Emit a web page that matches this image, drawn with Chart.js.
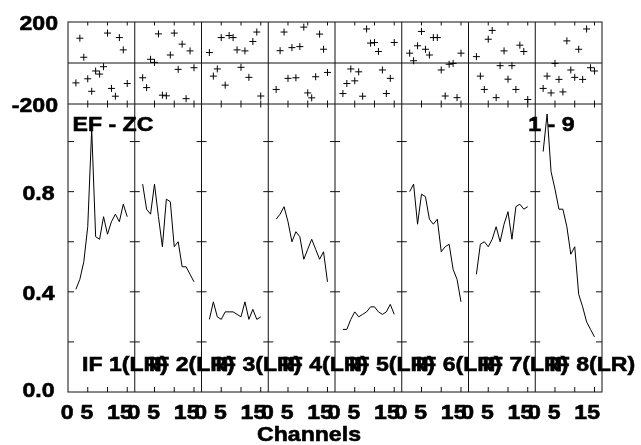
<!DOCTYPE html>
<html>
<head>
<meta charset="utf-8">
<script src="https://cdn.jsdelivr.net/npm/chart.js@4/dist/chart.umd.min.js"></script>
<style>
  html, body { margin: 0; padding: 0; background: #fff; }
  canvas { display: block; }
</style>
</head>
<body>
<canvas id="possm" width="641" height="445"></canvas>
<script>
// channels plotted in every IF panel
const channels = [2, 3, 4, 5, 6, 7, 8, 9, 10, 11, 12, 13, 14, 15];
const ifLabels = ['IF 1(LR)', 'IF 2(LR)', 'IF 3(LR)', 'IF 4(LR)', 'IF 5(LR)', 'IF 6(LR)', 'IF 7(LR)', 'IF 8(LR)'];

// phase (degrees), top strip
const phaseIF1 = [-97, 121, 28, -77, -138, -39, -54, -18, 146, -124, -162, 124, 64, -100];
const phaseIF2 = [-72, -120, 18, 3, 142, -157, -160, 39, 146, -31, 92, -174, 59, -23];
const phaseIF3 = [51, -64, -29, 124, -108, 134, 124, 64, -21, 59, -70, 105, 151, -161];
const phaseIF4 = [-129, 60, 151, -75, 75, -72, 80, 175, -146, -170, -67, 141, 67, -46];
const phaseIF5 = [-149, -100, -29, -87, -43, -162, 166, 97, 100, 56, -34, -149, -75, 100];
const phaseIF6 = [48, 11, 84, 154, 67, 39, 124, 124, -34, -161, -6, -2, -169, 48];
const phaseIF7 = [31, -64, -129, 116, 159, -169, -13, 59, -79, -13, -129, 87, 56, -178];
const phaseIF8 = [-124, -64, -146, -2, -80, -141, 108, -34, -70, 67, -80, 166, -23, -39];

// amplitude, lower panel
const ampIF1 = [0.41, 0.45, 0.52, 0.66, 1.05, 0.62, 0.61, 0.70, 0.63, 0.68, 0.71, 0.68, 0.75, 0.70];
const ampIF2 = [0.83, 0.73, 0.71, 0.83, 0.70, 0.58, 0.77, 0.76, 0.58, 0.60, 0.50, 0.50, 0.47, 0.44];
const ampIF3 = [0.29, 0.36, 0.30, 0.29, 0.32, 0.32, 0.32, 0.31, 0.30, 0.36, 0.29, 0.33, 0.29, 0.30];
const ampIF4 = [0.69, 0.71, 0.74, 0.68, 0.60, 0.64, 0.62, 0.53, 0.57, 0.61, 0.57, 0.53, 0.56, 0.44];
const ampIF5 = [0.25, 0.25, 0.29, 0.32, 0.30, 0.31, 0.32, 0.34, 0.34, 0.32, 0.31, 0.32, 0.35, 0.31];
const ampIF6 = [0.80, 0.83, 0.67, 0.79, 0.78, 0.69, 0.67, 0.69, 0.56, 0.58, 0.59, 0.49, 0.45, 0.36];
const ampIF7 = [0.47, 0.59, 0.60, 0.58, 0.61, 0.66, 0.60, 0.67, 0.72, 0.61, 0.74, 0.75, 0.73, 0.74];
const ampIF8 = [0.96, 1.11, 0.88, 0.81, 0.73, 0.73, 0.66, 0.55, 0.58, 0.39, 0.34, 0.28, 0.25, 0.22];

// axis ticks
const phaseTickLabels = [200, -200];
const ampTicks = [0.2, 0.4, 0.6, 0.8, 1.0];
const ampTickLabels = [0.0, 0.4, 0.8];
const channelTicks = [5, 10, 15];
const channelTickLabels = [0, 5, 15];

const SPAN = 16.9;          // channel range of one IF panel
const FONT = 'bold 21px "Liberation Sans", Arial, Helvetica, sans-serif';
const STRETCH = 1.1;

const phases = [phaseIF1, phaseIF2, phaseIF3, phaseIF4, phaseIF5, phaseIF6, phaseIF7, phaseIF8];
const amps = [ampIF1, ampIF2, ampIF3, ampIF4, ampIF5, ampIF6, ampIF7, ampIF8];

const datasets = [];
phases.forEach((ph, k) => datasets.push({
  data: channels.map((c, i) => ({ x: k * SPAN + c, y: ph[i] })),
  yAxisID: 'yPhase', pointStyle: 'cross', pointRadius: 3.5, pointBorderWidth: 1,
  borderColor: '#000', backgroundColor: '#000', showLine: false,
}));
amps.forEach((a, k) => datasets.push({
  data: channels.map((c, i) => ({ x: k * SPAN + c, y: a[i] })),
  yAxisID: 'yAmp', showLine: true, pointRadius: 0, borderColor: '#000', borderWidth: 1, tension: 0,
}));

function drawText(ctx, str, x, y, align) {
  ctx.save();
  ctx.font = FONT;
  const w = ctx.measureText(str).width * STRETCH;
  const left = align === 'right' ? x - w : align === 'center' ? x - w / 2 : x;
  ctx.translate(left, y);
  ctx.scale(STRETCH, 1);
  ctx.textAlign = 'left';
  ctx.textBaseline = 'alphabetic';
  ctx.fillStyle = '#000';
  ctx.strokeStyle = '#000';
  ctx.lineWidth = 0.6;
  ctx.fillText(str, 0, 0);
  ctx.strokeText(str, 0, 0);
  ctx.restore();
}

const possmFrame = {
  id: 'possmFrame',
  beforeDatasetsDraw(chart) {
    const { ctx, chartArea: a, scales: { x, yAmp, yPhase } } = chart;
    const line = (x1, y1, x2, y2) => { ctx.beginPath(); ctx.moveTo(x1, y1); ctx.lineTo(x2, y2); ctx.stroke(); };
    ctx.save();
    ctx.strokeStyle = '#111';
    ctx.lineWidth = 1;
    ctx.strokeRect(a.left, a.top, a.width, a.height);
    const yMid = yPhase.getPixelForValue(-200);
    line(a.left, yMid, a.right, yMid);
    const yZero = yPhase.getPixelForValue(0);
    line(a.left, yZero, a.right, yZero);
    for (let k = 1; k < 8; k++) {
      const px = x.getPixelForValue(k * SPAN);
      line(px, a.top, px, a.bottom);
    }
    for (let k = 0; k < 8; k++) {
      channelTicks.forEach(c => {
        const px = x.getPixelForValue(k * SPAN + c);
        line(px, a.top, px, a.top + 3.5);
        line(px, yMid - 3.5, px, yMid + 3.5);
        line(px, a.bottom - 5, px, a.bottom);
      });
    }
    ampTicks.forEach(v => {
      const py = yAmp.getPixelForValue(v);
      line(a.left, py, a.left + 6, py);
      line(a.right - 6, py, a.right, py);
      for (let k = 1; k < 8; k++) {
        const px = x.getPixelForValue(k * SPAN);
        line(px - 5, py, px + 5, py);
      }
    });
    ctx.restore();
  },
  afterDatasetsDraw(chart) {
    const { ctx, chartArea: a, scales: { x, yAmp, yPhase } } = chart;
    phaseTickLabels.forEach(v => drawText(ctx, String(v), 58, yPhase.getPixelForValue(v) + 8, 'right'));
    ampTickLabels.forEach(v => drawText(ctx, v.toFixed(1), 54.5, Math.min(yAmp.getPixelForValue(v) + 8, a.bottom + 5), 'right'));
    for (let k = 0; k < 8; k++) {
      channelTickLabels.forEach(c => drawText(ctx, String(c), x.getPixelForValue(k * SPAN + c) + 5.5, a.bottom + 27, 'right'));
      drawText(ctx, ifLabels[k], x.getPixelForValue(k * SPAN) + 14, a.bottom - 21, 'left');
    }
    const yMid = yPhase.getPixelForValue(-200);
    drawText(ctx, 'EF - ZC', a.left + 4.5, yMid + 27, 'left');
    drawText(ctx, '1 - 9', x.getPixelForValue(7 * SPAN) - 7, yMid + 27, 'left');
    drawText(ctx, 'Channels', 309, a.bottom + 48.5, 'center');
  },
};

new Chart(document.getElementById('possm'), {
  type: 'scatter',
  data: { datasets },
  options: {
    responsive: false,
    animation: false,
    devicePixelRatio: 1,
    layout: { padding: { left: 68, right: 39, top: 22, bottom: 53 } },
    plugins: { legend: { display: false }, tooltip: { enabled: false } },
    scales: {
      x: { type: 'linear', min: 0, max: SPAN * 8, display: false },
      yAmp: { type: 'linear', position: 'left', stack: 'panels', stackWeight: 288, weight: 1, min: 0, max: 1.15, display: false },
      yPhase: { type: 'linear', position: 'left', stack: 'panels', stackWeight: 82, weight: 2, min: -200, max: 200, display: false },
    },
  },
  plugins: [possmFrame],
});
</script>
</body>
</html>
